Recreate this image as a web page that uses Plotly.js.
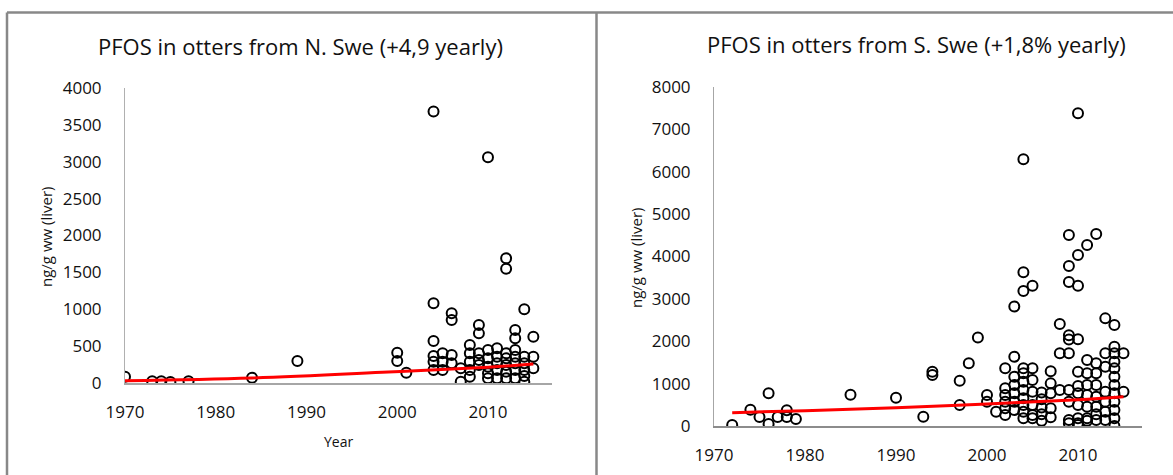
<!DOCTYPE html>
<html>
<head>
<meta charset="utf-8">
<script src="https://cdn.plot.ly/plotly-3.0.1.min.js"></script>
<style>html,body{margin:0;padding:0;background:#fff;}#chart{width:1173px;height:475px;}</style>
</head>
<body>
<div id="chart"></div>
<script>
// ---- North Sweden (left panel) ----
const northYear = [1970,1973,1974,1975,1977,1984,1989,
  2000,2000,2001,
  2004,2004,2004,2004,2004,2004,
  2005,2005,2005,
  2006,2006,2006,2006,
  2007,2007,
  2008,2008,2008,2008,2008,
  2009,2009,2009,2009,2009,
  2010,2010,2010,2010,2010,2010,
  2011,2011,2011,2011,2011,
  2012,2012,2012,2012,2012,2012,2012,
  2013,2013,2013,2013,2013,2013,2013,
  2014,2014,2014,2014,2014,2014,
  2015,2015,2015];
const northPFOS = [85,25,25,15,25,72,298,
  411,298,140,
  3680,1080,570,366,289,176,
  402,289,176,
  945,854,380,267,
  199,18,
  515,402,289,176,86,
  786,673,402,312,244,
  3060,447,334,221,131,63,
  470,357,267,176,63,
  1690,1550,402,334,244,154,63,
  718,606,447,357,267,176,63,
  999,357,267,176,95,18,
  628,357,199];
const northTrendYear = [1970,1984,1999,2010,2015];
const northTrendPFOS = [31,68,148,213,257];

// ---- South Sweden (right panel) ----
const southYear = [1972,1974,1975,1976,1976,1977,1978,1978,1979,1985,1990,1993,1994,1994,1997,1997,1998,1999,
  2000,2000,2001,
  2002,2002,2002,2002,2002,2002,
  2003,2003,2003,2003,2003,2003,2003,
  2004,2004,2004,2004,2004,2004,2004,2004,2004,2004,2004,
  2005,2005,2005,2005,2005,2005,2005,
  2006,2006,2006,2006,2006,
  2007,2007,2007,2007,2007,
  2008,2008,2008,
  2009,2009,2009,2009,2009,2009,2009,2009,2009,2009,
  2010,2010,2010,2010,2010,2010,2010,2010,2010,2010,2010,
  2011,2011,2011,2011,2011,2011,2011,2011,
  2012,2012,2012,2012,2012,2012,2012,2012,
  2013,2013,2013,2013,2013,2013,2013,
  2014,2014,2014,2014,2014,2014,2014,2014,2014,2014,2014,2014,
  2015,2015];
const southPFOS = [25,385,210,771,47,210,370,210,165,739,668,220,1282,1203,1070,496,1479,2090,
  731,574,338,
  1361,889,731,574,417,260,
  2818,1636,1164,967,771,574,378,
  6297,3627,3186,1361,1243,1046,849,653,496,338,181,
  3312,1361,1086,810,496,260,181,
  791,633,437,280,122,
  1290,1006,771,417,205,
  2407,1715,849,
  4507,3776,3400,2140,2040,1715,849,574,142,63,
  7379,4036,3312,2045,1282,944,771,496,181,63,24,
  4271,1558,1243,967,731,456,181,122,
  4531,1479,1243,967,692,456,280,142,
  2540,1715,1400,810,574,338,142,
  2383,1872,1715,1518,1360,1164,967,771,574,378,181,0,
  1715,810];
const southTrendYear = [1972,1980,1990,2000,2010,2015];
const southTrendPFOS = [315,362,433,520,620,690];

const titles = ["PFOS in otters from N. Swe (+4,9 yearly)", "PFOS in otters from S. Swe (+1,8% yearly)"];
const yTitle = "ng/g ww (liver)";
const xTitle = "Year";

const W = 1173, H = 475;
const px = v => v / W;
const py = v => 1 - v / H;

const FONT = "Open Sans";
const TXT = "#111111";

const markerStyle = {symbol: "circle-open", size: 10, color: "#000", line: {width: 2, color: "#000"}};
const trendStyle = {color: "#ff0000", width: 3};

const traces = [
  {x: northYear, y: northPFOS, type: "scatter", mode: "markers", marker: markerStyle, xaxis: "x", yaxis: "y"},
  {x: northTrendYear, y: northTrendPFOS, type: "scatter", mode: "lines", line: Object.assign({shape: "spline"}, trendStyle), xaxis: "x", yaxis: "y"},
  {x: southYear, y: southPFOS, type: "scatter", mode: "markers", marker: markerStyle, xaxis: "x2", yaxis: "y2"},
  {x: southTrendYear, y: southTrendPFOS, type: "scatter", mode: "lines", line: Object.assign({shape: "spline"}, trendStyle), xaxis: "x2", yaxis: "y2"}
];

const xCommon = {
  range: [1970, 2017], tick0: 1970, dtick: 10, showgrid: false, zeroline: false,
  showline: true, linecolor: "#a6a6a6", linewidth: 1.5, ticks: "", ticklabelstandoff: 13,
  tickfont: {family: FONT, size: 17, color: TXT}, fixedrange: true
};
const yCommon = {
  showgrid: false, zeroline: false, showline: true, linecolor: "#b0b0b0", linewidth: 1,
  ticks: "", ticklabelstandoff: 19, tickformat: "d",
  tickfont: {family: FONT, size: 17, color: TXT}, fixedrange: true
};

const layout = {
  width: W, height: H,
  margin: {l: 0, r: 0, t: 0, b: 0},
  paper_bgcolor: "#fff", plot_bgcolor: "rgba(0,0,0,0)",
  showlegend: false,
  xaxis: Object.assign({}, xCommon, {domain: [px(125), px(551.5)], anchor: "y"}),
  yaxis: Object.assign({}, yCommon, {domain: [py(383), py(88)], range: [0, 4000], dtick: 500, anchor: "x"}),
  xaxis2: Object.assign({}, xCommon, {domain: [px(714), px(1141.7)], anchor: "y2", linecolor: "#8c8c8c"}),
  yaxis2: Object.assign({}, yCommon, {domain: [py(426), py(87)], range: [0, 8000], dtick: 1000, anchor: "x2", linecolor: "#a6a6a6"}),
  annotations: [
    {text: titles[0], xref: "paper", yref: "paper", x: px(300), y: py(46), xanchor: "center", yanchor: "middle", showarrow: false, font: {family: FONT, size: 22, color: TXT}},
    {text: titles[1], xref: "paper", yref: "paper", x: px(916), y: py(44), xanchor: "center", yanchor: "middle", showarrow: false, font: {family: FONT, size: 22, color: TXT}},
    {text: yTitle, xref: "paper", yref: "paper", x: px(46), y: py(237), xanchor: "center", yanchor: "middle", textangle: -90, showarrow: false, font: {family: FONT, size: 15, color: TXT}},
    {text: yTitle, xref: "paper", yref: "paper", x: px(636), y: py(258), xanchor: "center", yanchor: "middle", textangle: -90, showarrow: false, font: {family: FONT, size: 15, color: TXT}},
    {text: xTitle, xref: "paper", yref: "paper", x: px(338), y: py(441), xanchor: "center", yanchor: "middle", showarrow: false, font: {family: FONT, size: 14, color: TXT}}
  ],
  shapes: [
    {type: "line", xref: "paper", yref: "paper", x0: px(7), x1: px(1173), y0: py(12.5), y1: py(12.5), line: {color: "#888", width: 2.5}},
    {type: "line", xref: "paper", yref: "paper", x0: px(7), x1: px(7), y0: py(12.5), y1: py(476), line: {color: "#888", width: 2.5}},
    {type: "line", xref: "paper", yref: "paper", x0: px(596.5), x1: px(596.5), y0: py(12.5), y1: py(476), line: {color: "#888", width: 2.5}}
  ]
};

Plotly.newPlot("chart", traces, layout, {displayModeBar: false, staticPlot: true});
</script>
</body>
</html>
